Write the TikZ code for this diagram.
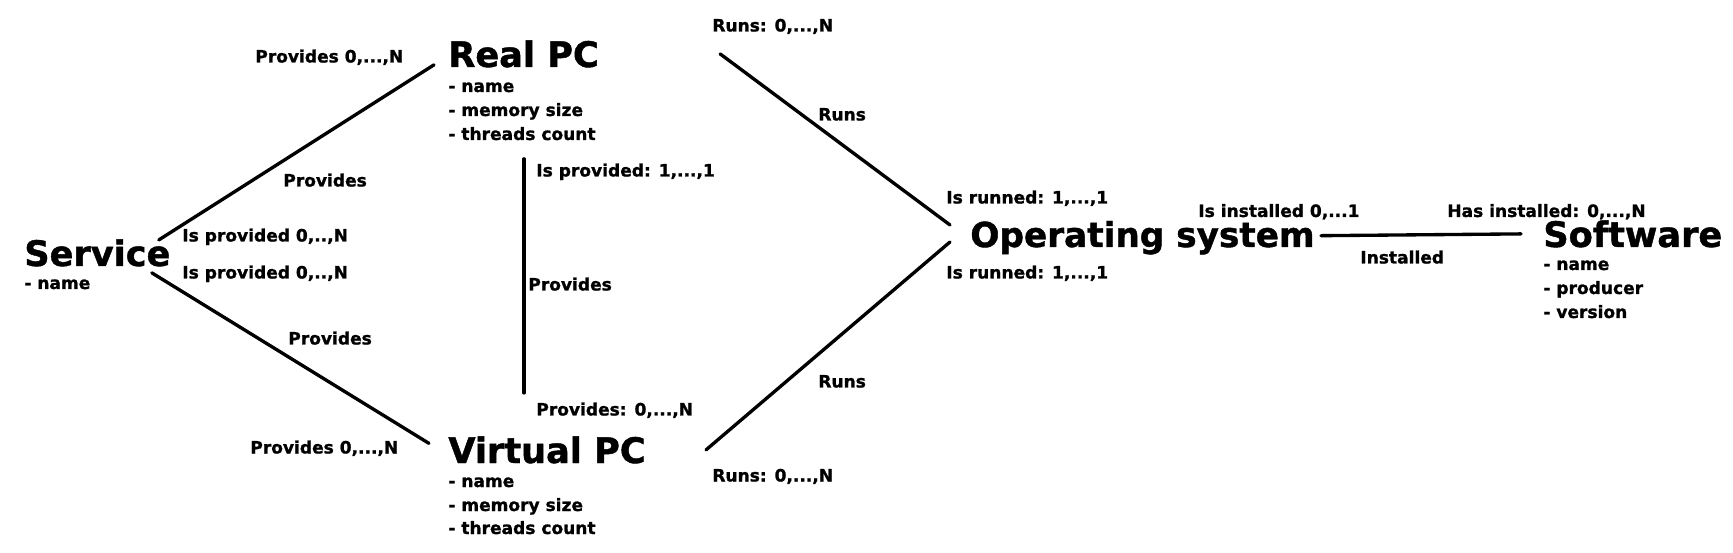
\documentclass[tikz,border=0pt]{standalone}
\usepackage{fontspec}
\setmainfont{DejaVu Sans}[BoldFeatures={FakeBold=1.2}]

\tikzset{
  entity/.style={anchor=base west,inner sep=0pt,font=\fontsize{20}{24}\selectfont\bfseries},
  attr/.style={anchor=base west,inner sep=0pt,font=\fontsize{9.7}{12}\selectfont\bfseries},
  card/.style={anchor=base west,inner sep=0pt,font=\fontsize{9.7}{12}\selectfont\bfseries},
  rel/.style={line width=1.9pt,line cap=round}
}

\begin{document}
\begin{tikzpicture}[x=0.02cm,y=-0.02cm]

\useasboundingbox (0,0) rectangle (1733,553);

\begin{scope}
% entities
\node[entity] (service) at (24,266) {Service};
\node[attr] (servicename) at (24,289) {- name};

\node[entity] (realpc) at (448,67) {Real PC};
\node[attr] (realpcname) at (448,92) {- name};
\node[attr] (realpcmem) at (448,116) {- memory size};
\node[attr] (realpcthr) at (448,140) {- threads count};

\node[entity] (virtualpc) at (448,463) {Virtual PC};
\node[attr] (virtualpcname) at (448,487) {- name};
\node[attr] (virtualpcmem) at (448,511) {- memory size};
\node[attr] (virtualpcthr) at (448,534) {- threads count};

\node[entity,font=\fontsize{19.5}{24}\selectfont\bfseries] (os) at (970,247) {Operating system};

\node[entity] (software) at (1543,247) {Software};
\node[attr] (softwarename) at (1543,270) {- name};
\node[attr] (softwareprod) at (1543,294) {- producer};
\node[attr] (softwarever) at (1543,318) {- version};

% relations
\draw[rel] ([shift={(-12,1)}]service.north east) -- ([shift={(-14,-3)}]realpc.south west);
\draw[rel] ([shift={(-19,6)}]service.south east) -- ([shift={(-19,-6.5)}]virtualpc.west);
\draw[rel] ([shift={(76,91)}]realpc.south west) -- ([shift={(76,-43)}]virtualpc.north west);
\draw[rel] ([shift={(121,0)}]realpc.east) -- ([shift={(-20,-12.7)}]os.west);
\draw[rel] ([shift={(60,0)}]virtualpc.east) -- ([shift={(-20,4.3)}]os.west);
\draw[rel] ([shift={(6,-2)}]os.east) -- ([shift={(-22,0)}]software.west);

% cardinalities
\node[card] (srprov) at (255,62.5) {Provides 0,...,N};
\node[card] (srname) at (283,186.5) {Provides};
\node[card] (srispr) at (182,241.5) {Is provided 0,..,N};
\node[card] (svispr) at (182,278.5) {Is provided 0,..,N};
\node[card] (svname) at (288,344.5) {Provides};
\node[card] (svprov) at (250,453.5) {Provides 0,...,N};

\node[card] (rvispr) at (536,176.5) {Is provided: 1,...,1};
\node[card] (rvname) at (528,290.5) {Provides};
\node[card] (rvprov) at (536,415.5) {Provides: 0,...,N};

\node[card] (roruns) at (712,31.5) {Runs: 0,...,N};
\node[card] (roname) at (818,120.5) {Runs};
\node[card] (roisrun) at (946,203.5) {Is runned: 1,...,1};
\node[card] (voisrun) at (946,278.5) {Is runned: 1,...,1};
\node[card] (voname) at (818,387.5) {Runs};
\node[card] (voruns) at (712,481.5) {Runs: 0,...,N};

\node[card] (osinst) at (1198,217) {Is installed 0,...1};
\node[card] (swinst) at (1447,217) {Has installed: 0,...,N};
\node[card] (instname) at (1360,263.5) {Installed};
\end{scope}

\end{tikzpicture}
\end{document}
